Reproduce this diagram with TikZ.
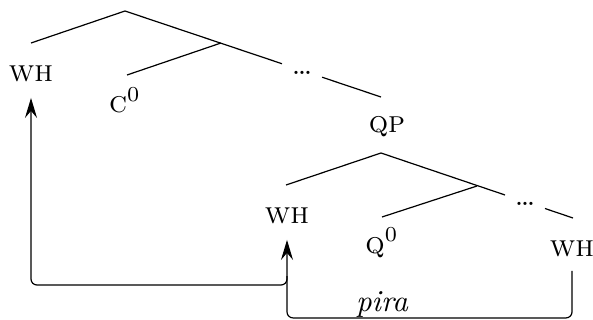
\documentclass[tikz,border=0pt]{standalone}
\usetikzlibrary{arrows.meta,calc}
\newcommand{\bigtx}[1]{\scalebox{3.05}{#1}}
\begin{document}
\begin{tikzpicture}[x=1pt,y=-1pt,line width=1.2pt,
  lbl/.style={inner sep=0pt,anchor=base},
  mv/.style={line width=1.2pt,rounded corners=6pt,-{Stealth[length=20pt,width=12pt,inset=7pt]}}]
\useasboundingbox (0,0) rectangle (593,320);
% top tree
\coordinate (r1) at (125,11);
\coordinate (l1) at (31,43);
\coordinate (m1) at (221,43);
\coordinate (c1) at (127,75);
\coordinate (e1) at (381,97);
\node[lbl] (wh1) at (31,82) {\bigtx{\textsc{wh}}};
\node[lbl] (c0) at (125,113) {\bigtx{\textsc{c}$^0$}};
\node[lbl] (dots1) at (302,75) {\bigtx{\dots}};
\node[lbl] (qp) at (387,133) {\bigtx{\textsc{qp}}};
\draw (l1) -- (r1) -- ($(r1)!0.613!(e1)$);
\draw ($(r1)!0.77!(e1)$) -- (e1);
\draw (m1) -- (c1);
% lower tree
\coordinate (r2) at (381,153);
\coordinate (l2) at (286,185);
\coordinate (m2) at (477,186);
\coordinate (c2) at (382,217);
\coordinate (e2) at (573,218);
\node[lbl] (wh2) at (287,223) {\bigtx{\textsc{wh}}};
\node[lbl] (q0) at (382,253) {\bigtx{\textsc{q}$^0$}};
\node[lbl] (dots2) at (525,205) {\bigtx{\dots}};
\node[lbl] (wh3) at (572,256) {\bigtx{\textsc{wh}}};
\draw (l2) -- (r2) -- ($(r2)!0.646!(e2)$);
\draw ($(r2)!0.854!(e2)$) -- (e2);
\draw (m2) -- (c2);
% movement arrows
\draw[mv] ([yshift=-14pt]wh3.south) -- ++(0,47) -| ([yshift=-16pt]wh2.south);
\coordinate (jn) at (287,276);
\draw[mv] (jn) -- ++(0,9) -| ([yshift=-15pt]wh1.south);
\node[lbl] (pira) at (382,311) {\bigtx{\itshape pira}};
\end{tikzpicture}
\end{document}
